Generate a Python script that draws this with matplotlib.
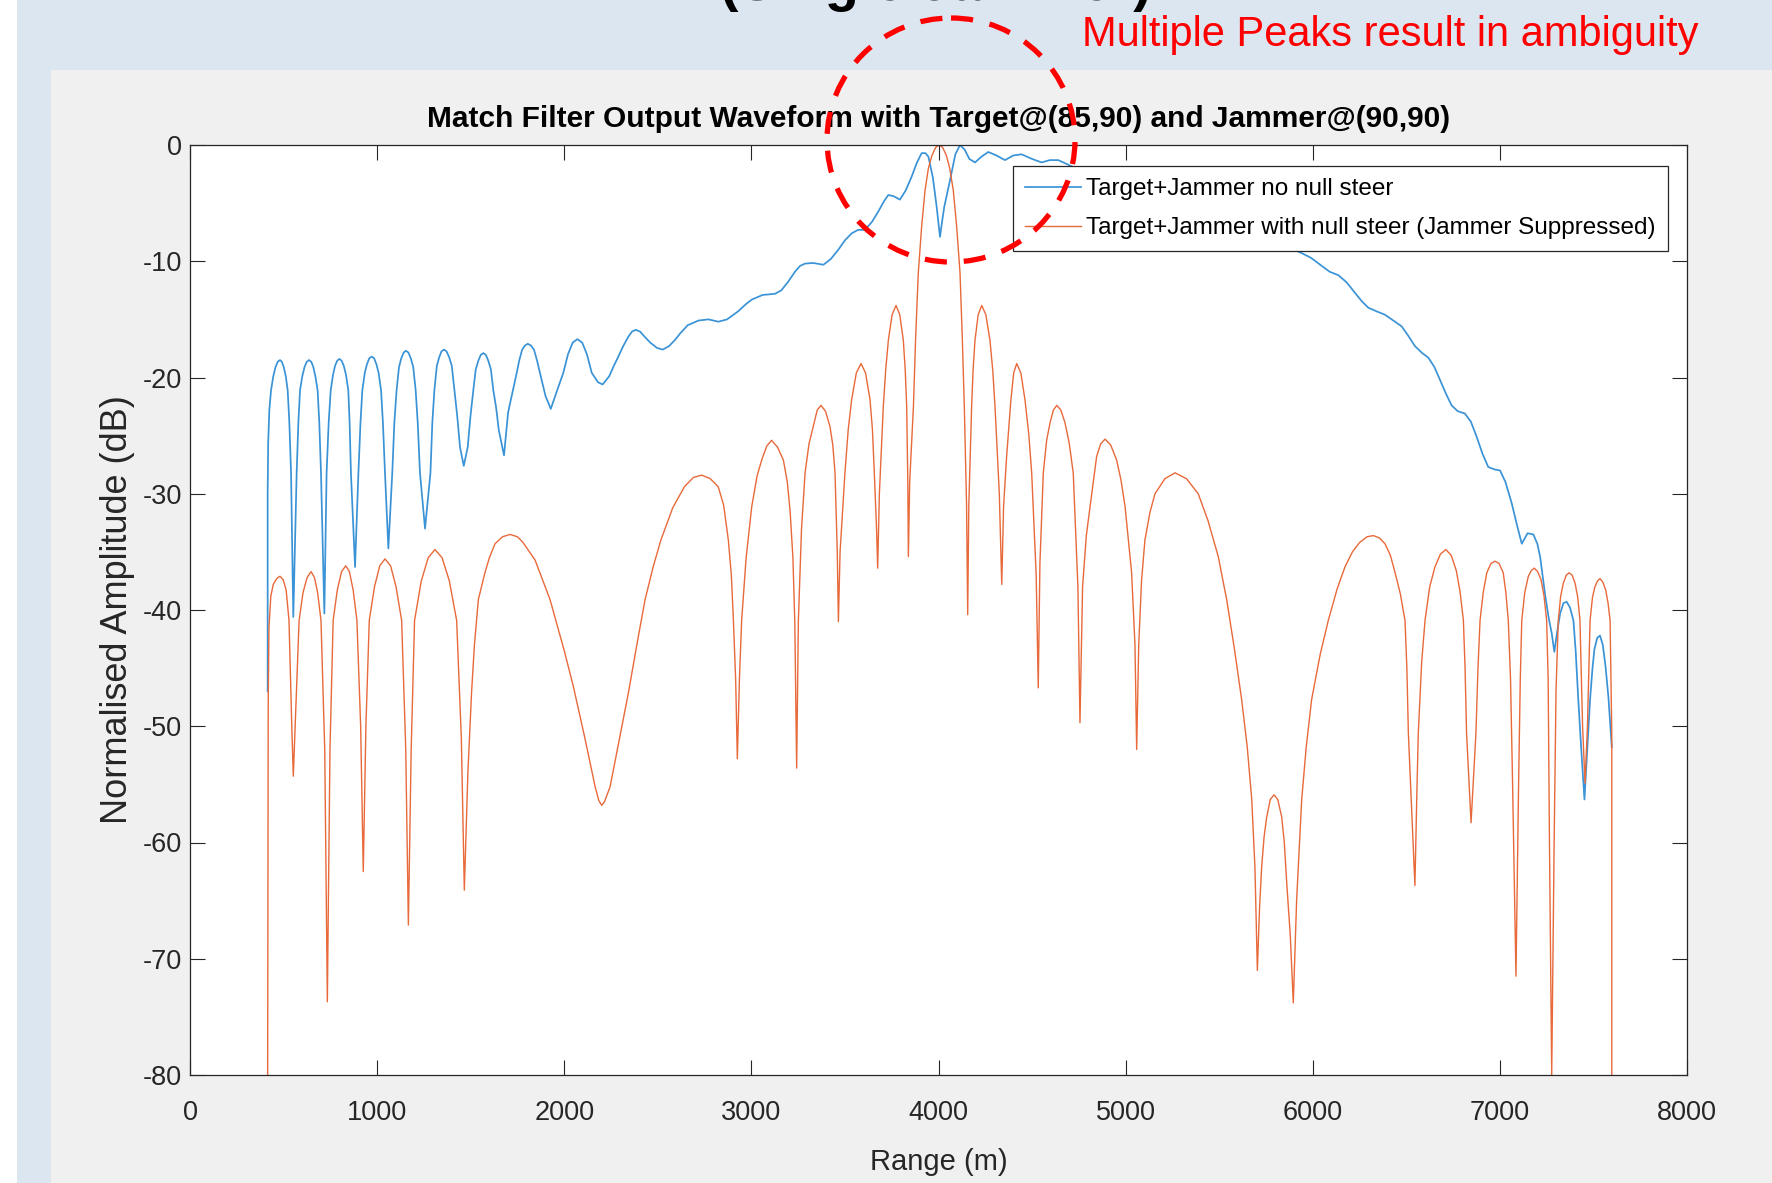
import matplotlib
matplotlib.use("Agg")
import matplotlib.pyplot as plt
from matplotlib.patches import Ellipse, Rectangle

plt.rcParams['font.family'] = ['Liberation Sans', 'DejaVu Sans']
plt.rcParams['axes.unicode_minus'] = False

# Target+Jammer no null steer (blue)
range_nosteer = [
    415, 415, 418, 424, 433, 445, 457, 469, 481, 491, 501, 512, 522, 531, 540, 552,
    570, 579, 588, 600, 612, 624, 636, 648, 659, 670, 682, 691, 700, 718,
    730, 741, 752, 764, 775, 787, 798, 810, 822, 834, 846, 853, 860, 882,
    900, 911, 921, 934, 946, 958, 971, 984, 996, 1008, 1021, 1031, 1042, 1060,
    1081, 1092, 1104, 1117, 1129, 1142, 1154, 1167, 1180, 1193, 1206, 1217, 1229, 1256,
    1285, 1295, 1306, 1319, 1332, 1344, 1357, 1371, 1385, 1399, 1413, 1428, 1443, 1463,
    1484, 1499, 1514, 1527, 1541, 1554, 1568, 1581, 1594, 1608, 1621, 1636, 1650, 1678,
    1700, 1746, 1760, 1775, 1790, 1805, 1822, 1838, 1854, 1870, 1900, 1928,
    1960, 1995, 2020, 2045, 2070, 2096, 2121, 2147, 2180, 2205,
    2240, 2265, 2289, 2315, 2342, 2362, 2382, 2405, 2430, 2460, 2495, 2526,
    2560, 2590, 2620, 2660, 2717, 2770, 2824, 2870, 2930, 2970, 3002, 3060,
    3126, 3160, 3195, 3233, 3260, 3287, 3330, 3385, 3425, 3465, 3500, 3536,
    3570, 3607, 3645, 3679, 3710, 3732, 3760, 3794, 3825, 3857, 3885, 3910,
    3930, 3946, 3970, 3990, 4008, 4020, 4031, 4062, 4090, 4115, 4140, 4165,
    4195, 4230, 4266, 4310, 4355, 4400, 4444, 4500, 4551, 4595, 4640, 4694,
    4800, 5000, 5200, 5400, 5600, 5800,
    5941, 5990, 6040, 6090, 6137, 6180, 6220, 6260, 6297, 6340, 6386, 6440,
    6475, 6510, 6546, 6585, 6618, 6650, 6680, 6712, 6742, 6775, 6813, 6845,
    6876, 6908, 6938, 6970, 7001, 7030, 7063, 7090, 7117, 7148, 7179, 7200,
    7215, 7241, 7260, 7277, 7291, 7305, 7322, 7340, 7357, 7375, 7393, 7405,
    7419, 7435, 7452, 7467, 7482, 7495, 7505, 7520, 7535, 7550, 7565, 7580, 7598,
]
amp_nosteer = [
    -47.0, -30.0, -25.5, -22.8, -21.1, -19.9, -19.1, -18.65, -18.5, -18.65, -19.1, -19.9, -21.1, -23.9, -28.2, -40.6,
    -28.2, -23.9, -21.1, -19.9, -19.1, -18.65, -18.5, -18.65, -19.1, -19.9, -21.1, -23.9, -28.2, -40.3,
    -28.2, -23.9, -21.1, -19.8, -19.0, -18.55, -18.4, -18.55, -19.0, -19.8, -21.1, -23.9, -28.2, -36.3,
    -28.2, -23.9, -21.1, -19.6, -18.85, -18.35, -18.2, -18.35, -18.85, -19.6, -21.1, -23.9, -28.2, -34.7,
    -28.2, -23.9, -21.1, -19.1, -18.35, -17.85, -17.7, -17.85, -18.35, -19.1, -21.1, -23.9, -28.2, -33.0,
    -28.2, -23.9, -21.1, -19.0, -18.25, -17.75, -17.6, -17.75, -18.25, -19.0, -21.1, -23.3, -26.0, -27.6,
    -26.0, -23.3, -21.1, -19.3, -18.55, -18.05, -17.9, -18.05, -18.55, -19.3, -21.1, -22.6, -24.5, -26.7,
    -23.0, -19.6, -18.5, -17.6, -17.25, -17.1, -17.25, -17.6, -18.5, -19.6, -21.6, -22.7,
    -21.2, -19.6, -18.0, -17.0, -16.7, -17.0, -18.0, -19.6, -20.4, -20.6,
    -19.9, -19.0, -18.2, -17.3, -16.5, -16.05, -15.9, -16.05, -16.5, -17.0, -17.45, -17.6,
    -17.3, -16.8, -16.2, -15.5, -15.1, -15.0, -15.2, -15.0, -14.3, -13.7, -13.3, -12.9,
    -12.8, -12.5, -11.8, -10.9, -10.4, -10.2, -10.15, -10.3, -9.8, -9.0, -8.2, -7.6,
    -7.3, -7.3, -6.6, -5.7, -4.8, -4.3, -4.4, -4.7, -3.9, -2.7, -1.5, -0.7,
    -0.7, -1.0, -2.8, -5.3, -7.9, -6.5, -5.3, -3.0, -0.8, 0.0, -0.4, -1.2,
    -1.5, -1.0, -0.6, -0.9, -1.3, -0.9, -0.8, -1.2, -1.5, -1.3, -1.3, -1.7,
    -2.5, -3.5, -4.6, -5.8, -7.0, -8.3,
    -9.3, -9.7, -10.3, -10.9, -11.2, -11.8, -12.6, -13.4, -14.0, -14.3, -14.6, -15.2,
    -15.6, -16.4, -17.3, -17.9, -18.3, -19.1, -20.2, -21.4, -22.4, -22.9, -23.1, -23.8,
    -25.1, -26.6, -27.7, -27.9, -28.0, -29.0, -30.8, -32.6, -34.3, -33.4, -33.5, -34.3,
    -35.4, -38.6, -40.6, -42.0, -43.6, -42.0, -40.3, -39.4, -39.3, -39.8, -40.9, -43.5,
    -47.7, -52.0, -56.3, -52.0, -47.7, -45.0, -43.4, -42.4, -42.2, -43.0, -44.9, -47.5, -51.8,
]

# Target+Jammer with null steer (orange)
range_steer = [
    415, 418, 422, 432, 445, 463, 481, 498, 514, 529, 544, 552,
    562, 583, 604, 626, 647, 665, 682, 700, 720, 734,
    748, 765, 787, 810, 832, 852, 872, 892, 912, 926,
    940, 958, 986, 1014, 1042, 1072, 1101, 1131, 1153, 1167,
    1182, 1200, 1236, 1273, 1309, 1347, 1386, 1425, 1450, 1466,
    1485, 1505, 1520, 1541, 1576, 1600, 1630, 1670, 1710, 1750, 1780, 1844,
    1924, 2000, 2049, 2110, 2165, 2185, 2200,
    2215, 2245, 2290, 2342, 2390, 2432, 2475, 2516, 2580, 2642, 2690, 2734,
    2780, 2823, 2852, 2877, 2893, 2904, 2916, 2925,
    2936, 2948, 2972, 3002, 3030, 3055, 3082, 3108, 3140, 3171, 3192, 3207, 3222, 3232, 3242,
    3251, 3268, 3287, 3308, 3331, 3352, 3372, 3396, 3420, 3435, 3447, 3459, 3465,
    3474, 3500, 3518, 3536, 3561, 3586, 3610, 3634, 3647, 3657, 3669, 3675,
    3684, 3705, 3718, 3732, 3752, 3773, 3793, 3812, 3822, 3830, 3836, 3839,
    3846, 3866, 3878, 3892, 3910, 3928, 3946, 3965, 3985, 4003, 4022, 4042,
    4060, 4079, 4097, 4115, 4127, 4138, 4150, 4156,
    4162, 4177, 4185, 4195, 4212, 4231, 4253, 4275, 4290, 4302, 4325, 4338,
    4348, 4364, 4387, 4402, 4418, 4440, 4462, 4482, 4498, 4522, 4533,
    4542, 4560, 4578, 4596, 4614, 4632, 4654, 4676, 4698, 4720, 4745, 4756,
    4770, 4790, 4810, 4845, 4867, 4890, 4920, 4952, 4975, 4997, 5032, 5050, 5059,
    5070, 5085, 5103, 5130, 5157, 5210, 5264, 5325, 5388, 5440, 5495, 5540,
    5580, 5620, 5650, 5674, 5691, 5704,
    5716, 5727, 5740, 5754, 5773, 5793, 5813, 5834, 5848, 5861, 5880, 5896,
    5914, 5941, 5965, 5994, 6040, 6083, 6130, 6172, 6212, 6250, 6290, 6324,
    6356, 6386, 6415, 6440, 6468, 6493, 6503, 6511, 6546,
    6556, 6564, 6582, 6600, 6625, 6653, 6682, 6711, 6740, 6767, 6787, 6805, 6814, 6822, 6846,
    6872, 6883, 6894, 6911, 6930, 6952, 6974, 6996, 7018, 7032, 7045, 7057, 7068, 7086,
    7100, 7109, 7117, 7133, 7152, 7168, 7184, 7202, 7220, 7236, 7250, 7258, 7265, 7277,
    7290, 7300, 7312, 7325, 7339, 7355, 7370, 7386, 7402, 7416, 7428, 7442, 7455,
    7468, 7482, 7495, 7508, 7522, 7535, 7550, 7566, 7578, 7589, 7598, 7598,
]
amp_steer = [
    -80.0, -48.0, -41.5, -38.8, -37.8, -37.3, -37.1, -37.4, -38.3, -40.9, -50.0, -54.3,
    -50.0, -40.9, -38.5, -37.2, -36.7, -37.2, -38.5, -40.9, -52.0, -73.7,
    -52.0, -40.9, -38.3, -36.7, -36.2, -36.7, -38.3, -40.9, -50.0, -62.5,
    -50.0, -40.9, -38.0, -36.2, -35.6, -36.2, -38.0, -40.9, -52.0, -67.1,
    -52.0, -40.9, -37.5, -35.5, -34.8, -35.5, -37.5, -40.9, -51.0, -64.1,
    -54.0, -47.0, -43.0, -39.1, -36.8, -35.5, -34.3, -33.7, -33.5, -33.7, -34.2, -35.7,
    -39.1, -43.5, -46.6, -51.0, -55.2, -56.4, -56.8,
    -56.5, -55.2, -51.5, -47.2, -42.8, -39.1, -36.3, -34.0, -31.2, -29.4, -28.6, -28.4,
    -28.7, -29.4, -31.0, -34.0, -37.0, -40.9, -46.0, -52.8,
    -46.0, -40.9, -35.5, -31.1, -28.5, -27.1, -25.9, -25.4, -26.0, -27.1, -29.0, -31.5, -35.5, -41.0, -53.6,
    -41.0, -33.0, -28.2, -25.7, -24.2, -22.8, -22.4, -22.9, -24.2, -25.8, -28.2, -35.0, -41.0,
    -35.0, -28.2, -24.4, -21.9, -19.6, -18.8, -19.6, -21.9, -24.5, -28.2, -33.0, -36.4,
    -30.0, -22.5, -19.3, -16.8, -14.6, -13.8, -14.6, -16.8, -19.3, -22.5, -29.0, -35.4,
    -29.0, -22.5, -16.5, -11.0, -7.0, -3.9, -2.0, -0.9, -0.2, 0.0, -0.2, -0.9,
    -2.0, -3.9, -7.0, -11.0, -16.5, -22.5, -31.0, -40.4,
    -31.0, -22.5, -19.3, -16.8, -14.6, -13.8, -14.6, -16.8, -19.4, -22.5, -30.0, -37.8,
    -31.0, -26.8, -21.9, -19.6, -18.8, -19.6, -21.9, -24.8, -28.2, -37.0, -46.7,
    -36.0, -28.2, -25.4, -23.9, -22.8, -22.4, -22.8, -23.9, -25.6, -28.2, -38.0, -49.7,
    -38.0, -33.6, -31.1, -26.8, -25.7, -25.3, -25.8, -27.1, -28.8, -31.1, -36.8, -43.0, -52.0,
    -43.0, -37.5, -34.0, -31.6, -30.0, -28.7, -28.2, -28.7, -30.0, -32.3, -35.4, -39.1,
    -43.2, -47.7, -51.8, -56.3, -62.1, -71.0,
    -65.5, -62.1, -59.5, -57.8, -56.3, -55.9, -56.3, -57.8, -60.0, -63.5, -68.0, -73.8,
    -64.9, -56.3, -51.8, -47.7, -43.8, -40.9, -38.2, -36.3, -35.0, -34.2, -33.7, -33.6,
    -33.8, -34.3, -35.3, -36.8, -38.6, -40.9, -45.0, -50.6, -63.7,
    -56.0, -50.6, -44.5, -40.9, -38.0, -36.3, -35.2, -34.8, -35.3, -36.6, -38.4, -40.9, -45.0, -50.6, -58.3,
    -50.6, -45.0, -40.9, -38.5, -36.8, -36.0, -35.8, -36.0, -36.8, -38.5, -40.9, -46.0, -55.0, -71.5,
    -55.0, -46.0, -40.9, -38.5, -37.1, -36.6, -36.4, -36.7, -37.4, -38.8, -40.9, -46.0, -60.0, -80.0,
    -60.0, -47.0, -40.9, -38.8, -37.7, -37.0, -36.8, -37.0, -37.7, -38.9, -40.9, -50.0, -54.9,
    -50.0, -40.9, -38.9, -38.0, -37.5, -37.3, -37.6, -38.3, -39.4, -40.9, -50.6, -80.0,
]

x_ticks = [0, 1000, 2000, 3000, 4000, 5000, 6000, 7000, 8000]
y_ticks = [0, -10, -20, -30, -40, -50, -60, -70, -80]

W, H = 1772, 1183
fig = plt.figure(figsize=(W / 100, H / 100), dpi=100)
fig.patch.set_facecolor('#dce6f1')

# slide background pieces (pixel coordinates)
bg = fig.add_axes([0, 0, 1, 1], zorder=0)
bg.set_xlim(0, W)
bg.set_ylim(H, 0)
bg.axis('off')
bg.add_patch(Rectangle((0, 0), 17, H, color='white', lw=0))
bg.add_patch(Rectangle((51, 70), W - 51, H - 70, color='#f0f0f0', lw=0))
# slide heading, almost all above the top edge: only descenders show
bg.text(720, 12, '(Single Jammer)', fontsize=40, fontweight='bold', color='black',
        ha='left', va='bottom')

# main plot
ax = fig.add_axes([190 / W, 1 - 1075 / H, 1497 / W, 930 / H], zorder=1)
ax.set_facecolor('white')
ax.plot(range_nosteer, amp_nosteer, color='#3a93d6', lw=1.25,
        label='Target+Jammer no null steer')
ax.plot(range_steer, amp_steer, color='#e8693a', lw=1.0,
        label='Target+Jammer with null steer (Jammer Suppressed)')
ax.set_xlim(0, 8000)
ax.set_ylim(-80, 0)
ax.set_xticks(x_ticks)
ax.set_yticks(y_ticks)
ax.tick_params(direction='in', length=11, width=0.8, color='#262626',
               top=True, right=True, labelsize=19.5, labelcolor='#262626')
ax.tick_params(axis='x', pad=18)
ax.tick_params(axis='y', pad=6)
for s in ax.spines.values():
    s.set_color('#262626')
    s.set_linewidth(0.9)

ax.set_title('Match Filter Output Waveform with Target@(85,90) and Jammer@(90,90)',
             fontsize=21.5, fontweight='bold', pad=13, color='black')
ax.set_xlabel('Range (m)', fontsize=21, color='#262626')
ax.xaxis.set_label_coords(0.5, -0.079)
ax.set_ylabel('Normalised Amplitude (dB)', fontsize=26, color='#262626')
ax.yaxis.set_label_coords(-0.037, 0.5)

leg = ax.legend(loc='upper right', bbox_to_anchor=(0.9873, 0.9774), borderaxespad=0,
                fontsize=17.5, handlelength=2.3, handletextpad=0.23, labelspacing=0.7,
                borderpad=0.5, fancybox=False, framealpha=1, edgecolor='#262626')
leg.get_frame().set_linewidth(0.9)

# annotation overlay
ov = fig.add_axes([0, 0, 1, 1], zorder=2)
ov.set_xlim(0, W)
ov.set_ylim(H, 0)
ov.axis('off')
ov.patch.set_alpha(0)
ov.add_patch(Ellipse((951, 140), 248, 244, fill=False, ec='#ff0000', lw=3.8,
                     ls=(0, (4.2, 3.2))))
ov.text(1082, 35, 'Multiple Peaks result in ambiguity', fontsize=30, color='#ff0000',
        ha='left', va='center')

fig.savefig('out.png', dpi=100)
